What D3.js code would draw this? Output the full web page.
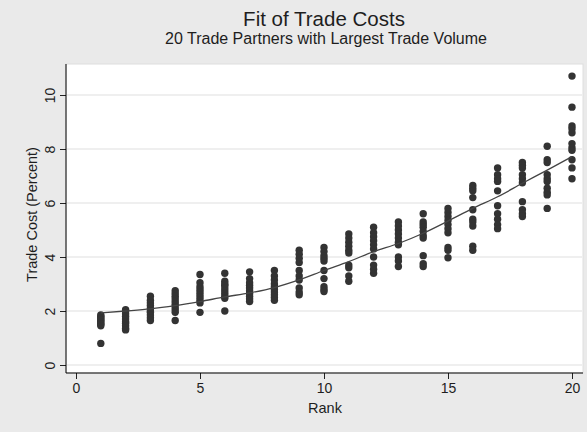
<!DOCTYPE html>
<html>
<head>
<meta charset="utf-8">
<script src="https://cdn.jsdelivr.net/npm/d3@7"></script>
<style>
  body { margin: 0; background: #eaeaea; }
  text { font-family: "Liberation Sans", Arial, sans-serif; fill: #1e1e1e; }
</style>
</head>
<body>
<div id="chart"></div>
<script>
var ranks = [1,2,3,4,5,6,7,8,9,10,11,12,13,14,15,16,17,18,19,20];
var costs = [
    [1.85,1.8,1.75,1.7,1.65,1.6,1.55,1.5,1.45,0.8],
    [2.05,2.0,1.9,1.8,1.7,1.6,1.55,1.45,1.35,1.3],
    [2.55,2.4,2.3,2.2,2.1,2.0,1.95,1.85,1.75,1.65],
    [2.75,2.65,2.55,2.45,2.35,2.25,2.15,2.05,1.95,1.65],
    [3.35,3.05,2.9,2.8,2.7,2.6,2.5,2.4,2.3,1.95],
    [3.4,3.1,3.0,2.95,2.85,2.75,2.65,2.55,2.47,2.0],
    [3.45,3.2,3.05,2.95,2.85,2.75,2.65,2.55,2.45,2.35],
    [3.5,3.3,3.15,3.0,2.9,2.8,2.7,2.6,2.5,2.4],
    [4.25,4.1,3.95,3.8,3.5,3.3,3.15,2.85,2.7,2.6],
    [4.35,4.2,4.05,3.95,3.85,3.5,3.2,2.9,2.8,2.72],
    [4.85,4.7,4.55,4.4,4.25,4.15,3.7,3.6,3.3,3.1],
    [5.1,4.9,4.75,4.6,4.45,4.3,4.0,3.7,3.55,3.4],
    [5.3,5.15,5.0,4.85,4.7,4.55,4.45,4.0,3.85,3.65],
    [5.6,5.3,5.2,5.1,4.95,4.8,4.7,4.05,3.75,3.65],
    [5.8,5.65,5.5,5.35,5.2,5.05,4.9,4.35,4.25,3.97],
    [6.65,6.55,6.45,6.2,5.75,5.4,5.3,5.15,4.4,4.25],
    [7.3,7.05,6.9,6.8,6.45,5.9,5.6,5.4,5.2,5.05],
    [7.5,7.4,7.3,7.05,6.9,6.75,6.05,5.75,5.6,5.5],
    [8.1,7.6,7.5,7.05,6.9,6.8,6.55,6.4,6.3,5.8],
    [10.7,9.55,8.85,8.75,8.6,8.2,8.05,7.95,7.6,7.3,6.9]
];
// fitted values
var fitted = [1.93,2.0,2.08,2.2,2.35,2.52,2.67,2.87,3.15,3.5,3.83,4.2,4.5,4.88,5.33,5.8,6.23,6.73,7.22,7.72];

var xTicks = [0,5,10,15,20];
var yTicks = [0,2,4,6,8,10];

var width = 587, height = 432;
var plot = { left: 66, right: 583, top: 64, bottom: 373 };

var svg = d3.select("#chart").append("svg")
    .attr("width", width)
    .attr("height", height);

svg.append("rect")
    .attr("width", width).attr("height", height)
    .attr("fill", "#eaeaea");

svg.append("rect")
    .attr("x", plot.left).attr("y", plot.top)
    .attr("width", plot.right - plot.left)
    .attr("height", plot.bottom - plot.top)
    .attr("fill", "#fff")
    .attr("stroke", "#dedede");

var x = d3.scaleLinear().domain([0, 20]).range([76, 572]);
var y = d3.scaleLinear().domain([0, 10]).range([365, 95]);

// gridlines
svg.selectAll(".grid")
    .data(yTicks)
    .join("line")
    .attr("class", "grid")
    .attr("x1", plot.left + 1).attr("x2", plot.right - 1)
    .attr("y1", d => y(d)).attr("y2", d => y(d))
    .attr("stroke", "#eaeaea")
    .attr("stroke-width", 1.5);

// y axis
var yAxis = svg.append("g")
    .attr("transform", `translate(${plot.left},0)`)
    .call(d3.axisLeft(y).tickValues(yTicks).tickSize(6).tickSizeOuter(0));
yAxis.select(".domain").remove();
yAxis.append("line")
    .attr("y1", plot.top).attr("y2", plot.bottom)
    .attr("stroke", "#000");
yAxis.selectAll(".tick line").attr("stroke", "#222");
yAxis.selectAll(".tick text")
    .attr("transform", "rotate(-90)")
    .attr("x", 0).attr("y", -11).attr("dy", 0)
    .attr("text-anchor", "middle")
    .style("font-size", "14px")
    .style("font-family", "'Liberation Sans', Arial, sans-serif")
    .attr("fill", "#1e1e1e");

// x axis
var xAxis = svg.append("g")
    .attr("transform", `translate(0,${plot.bottom})`)
    .call(d3.axisBottom(x).tickValues(xTicks).tickSize(6).tickSizeOuter(0));
xAxis.select(".domain").remove();
xAxis.append("line")
    .attr("x1", plot.left).attr("x2", plot.right)
    .attr("stroke", "#000");
xAxis.selectAll(".tick line").attr("stroke", "#222");
xAxis.selectAll(".tick text")
    .attr("y", 10).attr("dy", "0.71em")
    .style("font-size", "14px")
    .style("font-family", "'Liberation Sans', Arial, sans-serif")
    .attr("fill", "#1e1e1e");

// points
var points = [];
costs.forEach(function(list, i) {
    list.forEach(function(c) { points.push({ rank: ranks[i], cost: c }); });
});

svg.selectAll(".dot")
    .data(points)
    .join("circle")
    .attr("class", "dot")
    .attr("cx", d => x(d.rank))
    .attr("cy", d => y(d.cost))
    .attr("r", 3.7)
    .attr("fill", "#333");

// fitted line
svg.append("path")
    .datum(ranks.map((r, i) => ({ rank: r, fit: fitted[i] })))
    .attr("fill", "none")
    .attr("stroke", "#444")
    .attr("stroke-width", 1.3)
    .attr("d", d3.line()
        .x(d => x(d.rank))
        .y(d => y(d.fit))
        .curve(d3.curveMonotoneX));

// titles
svg.append("text")
    .attr("x", 324).attr("y", 26)
    .attr("text-anchor", "middle")
    .style("font-size", "20.5px")
    .text("Fit of Trade Costs");

svg.append("text")
    .attr("x", 326).attr("y", 44)
    .attr("text-anchor", "middle")
    .style("font-size", "16px")
    .text("20 Trade Partners with Largest Trade Volume");

svg.append("text")
    .attr("x", 325).attr("y", 413)
    .attr("text-anchor", "middle")
    .style("font-size", "14.5px")
    .text("Rank");

svg.append("text")
    .attr("transform", `translate(37,${(plot.top + plot.bottom) / 2 - 4}) rotate(-90)`)
    .attr("text-anchor", "middle")
    .style("font-size", "14.5px")
    .text("Trade Cost (Percent)");
</script>
</body>
</html>
